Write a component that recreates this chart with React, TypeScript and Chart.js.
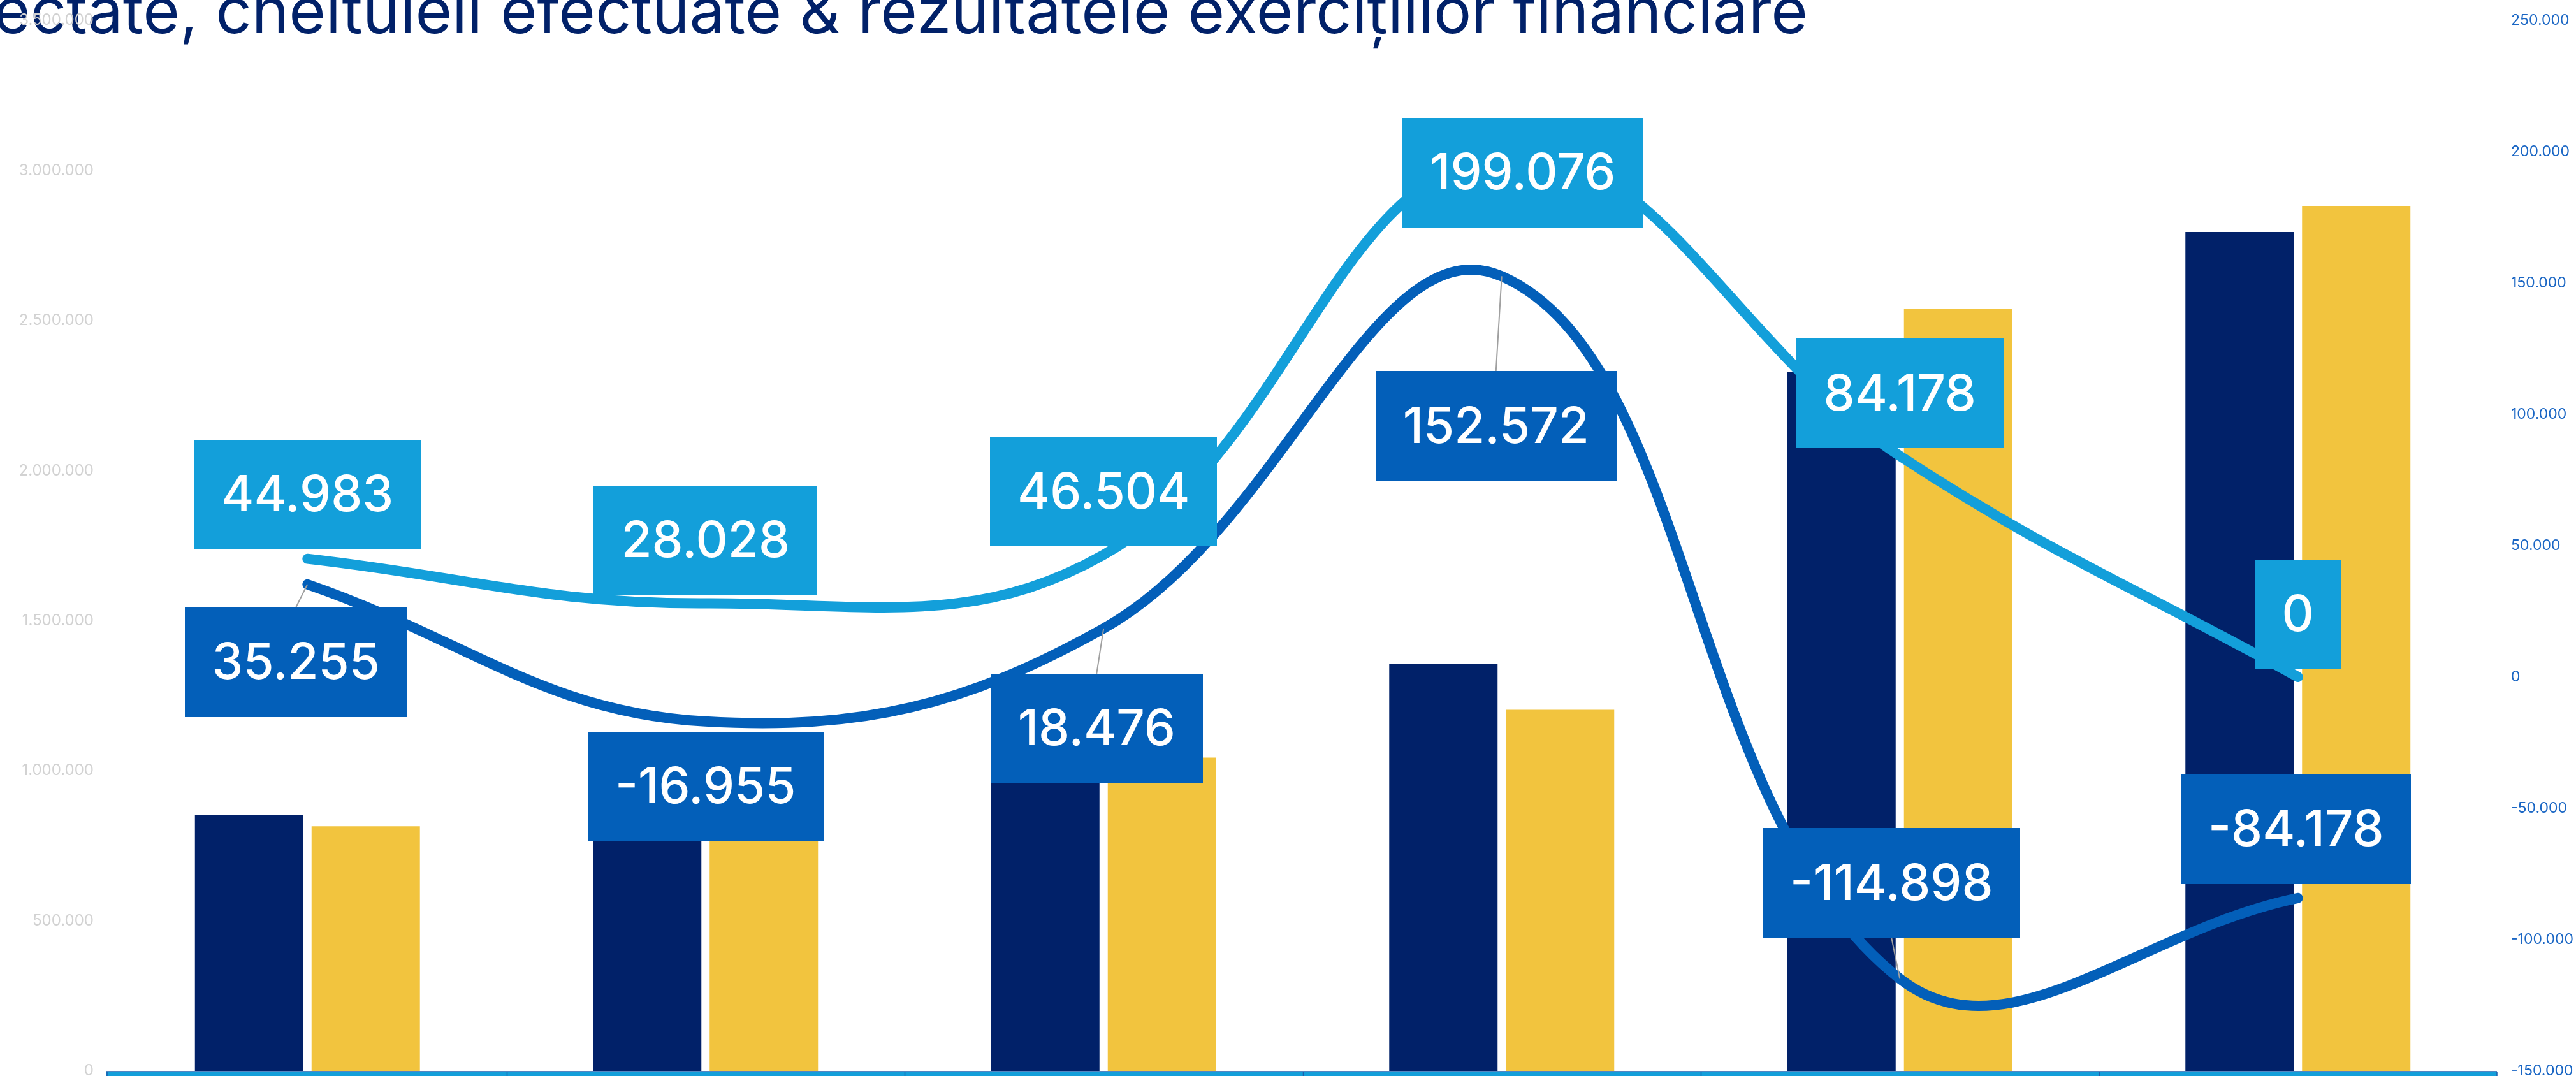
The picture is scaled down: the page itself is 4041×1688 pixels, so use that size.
import React, { useEffect, useRef } from "react";
import { Chart, registerables } from "chart.js";

Chart.register(...registerables);

// ---------- data ----------
const categories = ["2018", "2019", "2020", "2021", "2022", "2023"];
const venituri = [853000, 930000, 1061000, 1356000, 2330000, 2795000];
const cheltuieli = [815000, 910000, 1044000, 1203000, 2538000, 2882000];
const rezultatCumulat = [44983, 28028, 46504, 199076, 84178, 0];
const rezultatExercitiu = [35255, -16955, 18476, 152572, -114898, -84178];

const leftAxisMin = 0;
const leftAxisMax = 3500000;
const leftAxisStep = 500000;
const rightAxisMin = -150000;
const rightAxisMax = 250000;
const rightAxisStep = 50000;

const titleText = "ectate, cheltuieli efectuate & rezultatele exercițiilor financiare";

// ---------- styles ----------
const NAVY = "#012169";
const YELLOW = "#f2c43e";
const LIGHT_BLUE = "#139fda";
const DARK_BLUE = "#035fb9";

const W = 4041;
const H = 1688;

const fmt = (v: number) => {
  const s = Math.abs(Math.round(v)).toString().replace(/\B(?=(\d{3})+(?!\d))/g, ".");
  return (v < 0 ? "-" : "") + s;
};

// label offsets (box centre relative to the point)
const labelConfig = [
  {
    index: 2,
    color: LIGHT_BLUE,
    offsets: [
      [0, -101],
      [0, -99],
      [0, -99],
      [33, 29],
      [0, -98],
      [0, -98],
    ],
  },
  {
    index: 3,
    color: DARK_BLUE,
    offsets: [
      [-18, 122],
      [0, 102],
      [-11, 157],
      [-9, 235],
      [-13, -150],
      [-3, -108],
    ],
  },
];

const titlePlugin = {
  id: "clippedTitle",
  beforeDraw(chart: any) {
    const ctx = chart.ctx;
    ctx.save();
    ctx.font = "400 99px Inter";
    ctx.fillStyle = NAVY;
    ctx.textAlign = "left";
    ctx.textBaseline = "alphabetic";
    ctx.fillText(titleText, -10, 52);
    ctx.restore();
  },
};

const axisBandPlugin = {
  id: "axisBand",
  afterDraw(chart: any) {
    const ctx = chart.ctx;
    const a = chart.chartArea;
    ctx.save();
    const top = a.bottom + 1;
    ctx.fillStyle = LIGHT_BLUE;
    ctx.fillRect(a.left - 3, top, a.right - a.left + 3, 40);
    ctx.strokeStyle = "#1d5fae";
    ctx.lineWidth = 1.5;
    ctx.beginPath();
    ctx.moveTo(a.left - 3, top);
    ctx.lineTo(a.right, top);
    ctx.moveTo(a.left - 2, top);
    ctx.lineTo(a.left - 2, top + 40);
    ctx.moveTo(a.right, top);
    ctx.lineTo(a.right, top + 40);
    const n = categories.length;
    const step = (a.right - a.left) / n;
    for (let i = 1; i < n; i++) {
      const x = Math.round(a.left + step * i) + 0.5;
      ctx.moveTo(x, top);
      ctx.lineTo(x, top + 40);
    }
    ctx.stroke();
    ctx.restore();
  },
};

const boxLabelPlugin = {
  id: "boxLabels",
  afterDatasetsDraw(chart: any) {
    const ctx = chart.ctx;
    ctx.save();
    ctx.font = "500 78px Inter";
    const padX = 43;
    const boxH = 172;
    const items: any[] = [];
    labelConfig.forEach((cfg) => {
      const meta = chart.getDatasetMeta(cfg.index);
      const ds = chart.data.datasets[cfg.index];
      meta.data.forEach((pt: any, i: number) => {
        const text = fmt(ds.data[i]);
        const [dx, dy] = cfg.offsets[i];
        const cx = pt.x + dx;
        const cy = pt.y + dy;
        const tw = ctx.measureText(text).width;
        const w = tw + padX * 2;
        items.push({ pt, text, cx, cy, w, h: boxH, dy, color: cfg.color });
      });
    });
    // leader lines
    ctx.strokeStyle = "#a0a0a0";
    ctx.lineWidth = 2;
    items.forEach((it) => {
      const y0 = it.cy - it.h / 2;
      const y1 = it.cy + it.h / 2;
      const below = it.dy > 0;
      const gap = below ? y0 - it.pt.y : it.pt.y - y1;
      if (gap > 25) {
        ctx.beginPath();
        ctx.moveTo(it.pt.x, it.pt.y);
        ctx.lineTo(it.cx, below ? y0 : y1);
        ctx.stroke();
      }
    });
    // boxes
    ctx.textAlign = "center";
    ctx.textBaseline = "middle";
    items.forEach((it) => {
      ctx.fillStyle = it.color;
      ctx.fillRect(Math.round(it.cx - it.w / 2), Math.round(it.cy - it.h / 2), Math.round(it.w), it.h);
      ctx.fillStyle = "#ffffff";
      ctx.fillText(it.text, it.cx, it.cy + 3);
    });
    ctx.restore();
  },
};

const noPad = (s: any) => {
  s.paddingTop = 0;
  s.paddingBottom = 0;
};

export default function App() {
  const ref = useRef<HTMLCanvasElement | null>(null);

  useEffect(() => {
    if (!ref.current) return;
    const chart = new Chart(ref.current, {
      type: "bar",
      data: {
        labels: categories,
        datasets: [
          {
            type: "bar",
            label: "Venituri",
            data: venituri,
            backgroundColor: NAVY,
            yAxisID: "y",
            order: 2,
            barPercentage: 0.929,
            categoryPercentage: 0.586,
          },
          {
            type: "bar",
            label: "Cheltuieli",
            data: cheltuieli,
            backgroundColor: YELLOW,
            yAxisID: "y",
            order: 2,
            barPercentage: 0.929,
            categoryPercentage: 0.586,
          },
          {
            type: "line",
            label: "Rezultat cumulat",
            data: rezultatCumulat,
            borderColor: LIGHT_BLUE,
            backgroundColor: LIGHT_BLUE,
            borderWidth: 16,
            borderCapStyle: "round",
            tension: 0.4,
            pointRadius: 0,
            fill: false,
            yAxisID: "y1",
            order: 1,
          },
          {
            type: "line",
            label: "Rezultatul exercițiului",
            data: rezultatExercitiu,
            borderColor: DARK_BLUE,
            backgroundColor: DARK_BLUE,
            borderWidth: 16,
            borderCapStyle: "round",
            tension: 0.4,
            pointRadius: 0,
            fill: false,
            yAxisID: "y1",
            order: 1,
          },
        ] as any,
      },
      options: {
        responsive: false,
        devicePixelRatio: 1,
        animation: false,
        layout: { padding: { top: 32, bottom: 8, left: 0, right: 0 } },
        plugins: {
          legend: { display: false },
          tooltip: { enabled: false },
          title: { display: false },
        },
        scales: {
          x: {
            display: false,
            offset: true,
            grid: { display: false },
          },
          y: {
            position: "left",
            min: leftAxisMin,
            max: leftAxisMax,
            grid: { display: false, drawTicks: false },
            border: { display: false },
            ticks: {
              stepSize: leftAxisStep,
              padding: 23,
              color: "#d2d2d2",
              font: { family: "Inter", size: 24 },
              callback: (v: any) => fmt(Number(v)),
            },
            afterFit: (s: any) => {
              s.width = 170;
              noPad(s);
            },
          },
          y1: {
            position: "right",
            min: rightAxisMin,
            max: rightAxisMax,
            grid: { display: false, drawTicks: false },
            border: { display: false },
            ticks: {
              stepSize: rightAxisStep,
              padding: 22,
              color: "#1a66c4",
              font: { family: "Inter", size: 23 },
              callback: (v: any) => fmt(Number(v)),
            },
            afterFit: (s: any) => {
              s.width = 124;
              noPad(s);
            },
          },
        },
      } as any,
      plugins: [titlePlugin, axisBandPlugin, boxLabelPlugin],
    });
    return () => chart.destroy();
  }, []);

  return (
    <div style={{ position: "fixed", left: 0, top: 0, width: W, height: H, background: "#ffffff" }}>
      <canvas ref={ref} width={W} height={H} style={{ display: "block", width: W, height: H }} />
    </div>
  );
}
